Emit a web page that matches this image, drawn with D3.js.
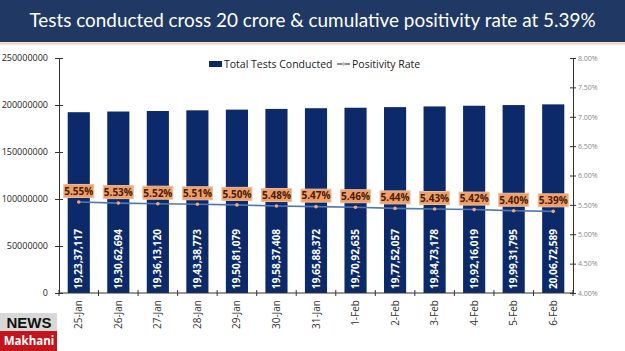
<!DOCTYPE html>
<html>
<head>
<meta charset="utf-8">
<script src="https://cdn.jsdelivr.net/npm/d3@7"></script>
<style>
  body { margin: 0; background: #fff; }
  svg { display: block; font-family: "Open Sans", "DejaVu Sans", sans-serif; }
</style>
</head>
<body>
<svg id="chart" width="625" height="351"></svg>
<script>
// chart values
const dates = ["25-Jan", "26-Jan", "27-Jan", "28-Jan", "29-Jan", "30-Jan", "31-Jan",
  "1-Feb", "2-Feb", "3-Feb", "4-Feb", "5-Feb", "6-Feb"];
const totalTests = [192337117, 193062694, 193613120, 194338773, 195081079, 195837408,
  196588372, 197092635, 197752057, 198473178, 199216019, 199931795, 200672589];
const testLabels = ["19,23,37,117", "19,30,62,694", "19,36,13,120", "19,43,38,773",
  "19,50,81,079", "19,58,37,408", "19,65,88,372", "19,70,92,635", "19,77,52,057",
  "19,84,73,178", "19,92,16,019", "19,99,31,795", "20,06,72,589"];
const positivity = [5.55, 5.53, 5.52, 5.51, 5.50, 5.48, 5.47, 5.46, 5.44, 5.43, 5.42, 5.40, 5.39];
const leftTicks = [0, 50000000, 100000000, 150000000, 200000000, 250000000];
const rightTicks = [4.0, 4.5, 5.0, 5.5, 6.0, 6.5, 7.0, 7.5, 8.0];

const svg = d3.select("#chart");
const W = 625, H = 351;
const plot = { left: 59, right: 573, top: 58, bottom: 293 };

// title band
svg.append("rect").attr("x", 0).attr("y", 0).attr("width", W).attr("height", 42).attr("fill", "#1f3864");
svg.append("rect").attr("x", 0).attr("y", 42).attr("width", W).attr("height", 3).attr("fill", "#f6dccb");
svg.append("text")
  .attr("x", W / 2).attr("y", 27)
  .attr("text-anchor", "middle")
  .attr("fill", "#fff")
  .attr("font-size", 18.9)
  .attr("font-family", "Lato, 'Open Sans', sans-serif")
  .text("Tests conducted cross 20 crore & cumulative positivity rate at 5.39%");

// scales
const x = d3.scaleBand().domain(dates).range([plot.left, plot.right]).paddingInner(0.44).paddingOuter(0.22);
const y = d3.scaleLinear().domain([0, 250000000]).range([plot.bottom, plot.top]);
const y2 = d3.scaleLinear().domain([4, 8]).range([plot.bottom, plot.top]);

// bars
svg.selectAll(".bar")
  .data(totalTests)
  .join("rect")
  .attr("class", "bar")
  .attr("x", (d, i) => x(dates[i]))
  .attr("y", d => y(d))
  .attr("width", x.bandwidth())
  .attr("height", d => y(0) - y(d))
  .attr("fill", "#0c2a69");

// values inside bars
svg.selectAll(".barlabel")
  .data(testLabels)
  .join("text")
  .attr("class", "barlabel")
  .attr("transform", (d, i) => `translate(${x(dates[i]) + x.bandwidth() / 2 + 3.5},${plot.bottom - 4}) rotate(-90)`)
  .attr("fill", "#fff")
  .attr("font-size", 10)
  .attr("font-weight", "bold")
  .text(d => d);

// left axis
const gl = svg.append("g")
  .attr("transform", `translate(${plot.left},0)`)
  .call(d3.axisLeft(y).tickValues(leftTicks).tickSizeInner(4).tickSizeOuter(0).tickFormat(d3.format("d")));
gl.selectAll(".tick line").attr("x2", 4).attr("x1", -4);
gl.selectAll("text").attr("font-size", 9).attr("fill", "#222").attr("x", -11);
gl.selectAll("path,line").attr("stroke", "#333");
gl.attr("font-family", null);

// right axis
const gr = svg.append("g")
  .attr("transform", `translate(${plot.right},0)`)
  .call(d3.axisRight(y2).tickValues(rightTicks).tickSizeOuter(0).tickFormat(d => d3.format(".2f")(d) + "%"));
gr.selectAll(".tick line").attr("x1", -3).attr("x2", 3);
gr.selectAll("text").attr("font-size", 7).attr("fill", "#888").attr("x", 5);
gr.selectAll("path,line").attr("stroke", "#333");
gr.attr("font-family", null);

// bottom axis (ticks at band edges)
const edges = dates.map(d => x(d) - x.step() * x.paddingInner() / 2).concat([plot.right]);
svg.append("line").attr("x1", plot.left).attr("x2", plot.right)
  .attr("y1", plot.bottom).attr("y2", plot.bottom).attr("stroke", "#333");
svg.selectAll(".xtick")
  .data(edges)
  .join("line")
  .attr("x1", d => d).attr("x2", d => d)
  .attr("y1", plot.bottom - 3).attr("y2", plot.bottom + 3)
  .attr("stroke", "#333");
svg.selectAll(".xlabel")
  .data(dates)
  .join("text")
  .attr("transform", d => `translate(${x(d) + x.bandwidth() / 2 + 3.5},${plot.bottom + 7}) rotate(-90)`)
  .attr("text-anchor", "end")
  .attr("font-size", 10)
  .attr("fill", "#333")
  .text(d => d);

// positivity line
const line = d3.line().x((d, i) => x(dates[i]) + x.bandwidth() / 2).y(d => y2(d));
svg.append("path").datum(positivity).attr("d", line)
  .attr("fill", "none").attr("stroke", "#4f77b0").attr("stroke-width", 1.6);
svg.selectAll(".dot")
  .data(positivity)
  .join("circle")
  .attr("cx", (d, i) => x(dates[i]) + x.bandwidth() / 2)
  .attr("cy", d => y2(d))
  .attr("r", 1.8)
  .attr("fill", "#f4a582");

// rate labels
const rl = svg.selectAll(".ratelabel")
  .data(positivity)
  .join("g")
  .attr("transform", (d, i) => `translate(${x(dates[i]) + x.bandwidth() / 2},${y2(d) - 11})`);
rl.append("rect").attr("x", -15).attr("y", -6.5).attr("width", 30).attr("height", 13)
  .attr("fill", "#f0a066").attr("stroke", "#e8c1a2").attr("stroke-width", 1);
rl.append("text").attr("text-anchor", "middle").attr("y", 3.8)
  .attr("font-size", 10).attr("font-weight", "bold").attr("fill", "#4a1a08")
  .text(d => d3.format(".2f")(d) + "%");

// legend
const lg = svg.append("g").attr("transform", "translate(209,64)");
lg.append("rect").attr("x", 0).attr("y", -3).attr("width", 13).attr("height", 6).attr("fill", "#0c2a69");
lg.append("text").attr("x", 15).attr("y", 4).attr("font-size", 10.5).attr("fill", "#222").text("Total Tests Conducted");
lg.append("line").attr("x1", 128).attr("x2", 141).attr("y1", 0).attr("y2", 0).attr("stroke", "#4f77b0").attr("stroke-width", 1.6);
lg.append("circle").attr("cx", 134.5).attr("cy", 0).attr("r", 1.8).attr("fill", "#f4a582");
lg.append("text").attr("x", 143).attr("y", 4).attr("font-size", 10.5).attr("fill", "#222").text("Positivity Rate");

// logo
const logo = svg.append("g").attr("transform", "translate(0,313)");
logo.append("rect").attr("width", 57).attr("height", 18).attr("fill", "#d8d8d8");
logo.append("text").attr("x", 29).attr("y", 15).attr("text-anchor", "middle")
  .attr("font-size", 15).attr("font-weight", "bold").attr("fill", "#111")
  .attr("font-family", "'Liberation Sans', Arial, sans-serif").text("NEWS");
logo.append("rect").attr("y", 18).attr("width", 57).attr("height", 20).attr("fill", "#c4151c");
logo.append("text").attr("x", 29).attr("y", 32).attr("text-anchor", "middle")
  .attr("font-size", 11.5).attr("font-weight", "bold").attr("fill", "#fff").text("Makhani");
</script>
</body>
</html>
